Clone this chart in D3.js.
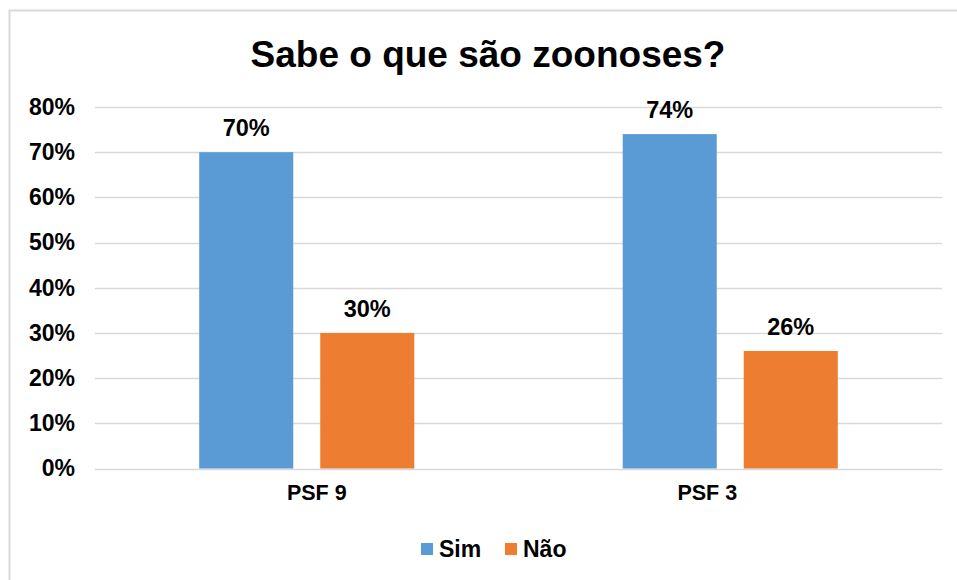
<!DOCTYPE html>
<html><head><meta charset="utf-8">
<script src="https://cdn.jsdelivr.net/npm/d3@7"></script>
<style>body{margin:0;background:#fff}svg{display:block;font-family:"Liberation Sans",Arial,sans-serif}</style>
</head><body>
<svg id="c" width="957" height="580"></svg>
<script>
const title = "Sabe o que são zoonoses?";
const categories = ["PSF 9", "PSF 3"];
const seriesNames = ["Sim", "Não"];
const sim = [0.70, 0.74];
const nao = [0.30, 0.26];
const yTicks = [0, 0.1, 0.2, 0.3, 0.4, 0.5, 0.6, 0.7, 0.8];
const colors = ["#5B9BD5", "#ED7D31"];

const svg = d3.select("#c");
svg.append("rect").attr("x", 9.5).attr("y", 10.5).attr("width", 960).attr("height", 600)
  .attr("fill", "#fff").attr("stroke", "#d9d9d9").attr("stroke-width", 2);

const L = 95, R = 942, T = 107, B = 468.5;
const x0 = d3.scaleBand().domain(categories).range([L, R]);
const x1 = d3.scaleBand().domain(seriesNames).range([0, x0.bandwidth()]).paddingInner(0.223).paddingOuter(0.861);
const y = d3.scaleLinear().domain([0, 0.8]).range([B, T]);

svg.append("g").selectAll("line").data(yTicks).join("line")
  .attr("x1", L).attr("x2", R).attr("y1", d => Math.round(y(d)) + 0.5).attr("y2", d => Math.round(y(d)) + 0.5)
  .attr("stroke", "#d9d9d9").attr("stroke-width", 1.5);

const yAxis = d3.axisLeft(y).tickValues(yTicks).tickFormat(d3.format(".0%")).tickSize(0).tickPadding(20);
const ga = svg.append("g").attr("transform", `translate(${L},0)`).call(yAxis);
ga.select(".domain").remove();
ga.selectAll("text").attr("font-size", 23).attr("font-weight", "bold").attr("fill", "#000")
  .attr("font-family", "Liberation Sans, Arial, sans-serif");

const data = categories.map((c, i) => ({c, vals: [{s: "Sim", v: sim[i]}, {s: "Não", v: nao[i]}]}));
const g = svg.append("g").selectAll("g").data(data).join("g").attr("transform", d => `translate(${x0(d.c)},0)`);
g.selectAll("rect").data(d => d.vals).join("rect")
  .attr("x", d => x1(d.s)).attr("width", x1.bandwidth())
  .attr("y", d => y(d.v)).attr("height", d => B - y(d.v))
  .attr("fill", (d, i) => colors[i]);
g.selectAll("text").data(d => d.vals).join("text")
  .attr("x", d => x1(d.s) + x1.bandwidth() / 2).attr("y", d => y(d.v) - 16)
  .attr("text-anchor", "middle").attr("font-size", 23.5).attr("font-weight", "bold")
  .text(d => d3.format(".0%")(d.v));

const labelShift = [10, -23];
const xAxis = d3.axisBottom(x0).tickSize(0).tickPadding(16);
const gx = svg.append("g").attr("transform", `translate(0,${B})`).call(xAxis);
gx.select(".domain").remove();
gx.selectAll("text").attr("font-size", 21.5).attr("font-weight", "bold").attr("fill", "#000")
  .attr("dx", (d, i) => labelShift[i])
  .attr("font-family", "Liberation Sans, Arial, sans-serif");

svg.append("text").attr("x", 488).attr("y", 67).attr("text-anchor", "middle")
  .attr("font-size", 37).attr("font-weight", "bold").text(title);

const leg = svg.append("g");
const legX = [421, 505];
seriesNames.forEach((s, i) => {
  leg.append("rect").attr("x", legX[i]).attr("y", 543).attr("width", 12).attr("height", 12).attr("fill", colors[i]);
  leg.append("text").attr("x", legX[i] + 18).attr("y", 557).attr("font-size", 23).attr("font-weight", "bold").text(s);
});
</script>
</body></html>
